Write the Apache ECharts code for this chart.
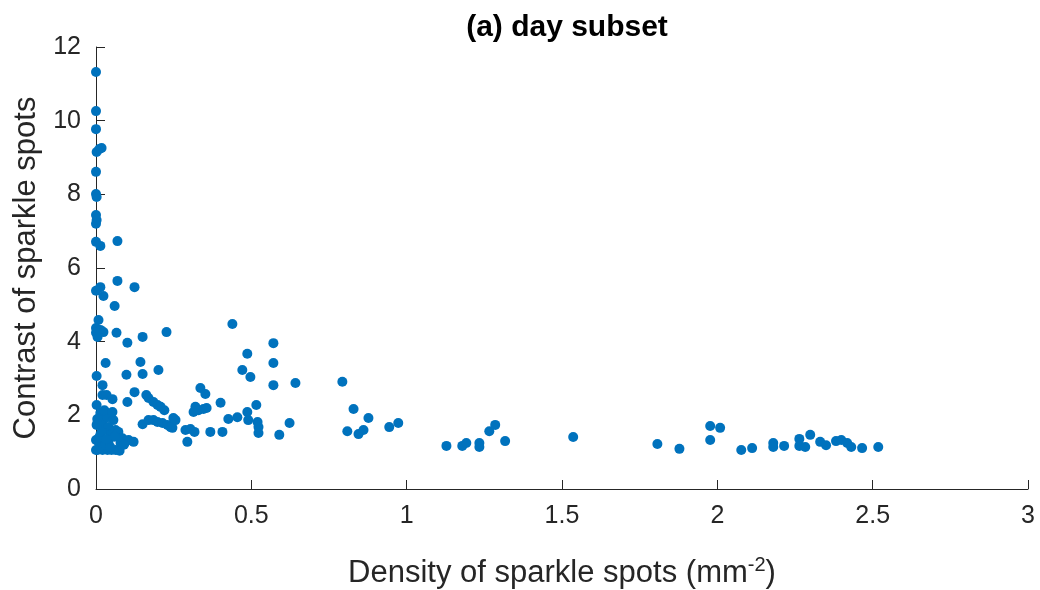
<!DOCTYPE html>
<html>
<head>
<meta charset="utf-8">
<script src="https://cdn.jsdelivr.net/npm/echarts@6/dist/echarts.min.js"></script>
<style>
  html, body { margin: 0; padding: 0; background: #ffffff; }
  #chart { width: 1040px; height: 590px; }
</style>
</head>
<body>
<div id="chart"></div>
<script>
// Density of sparkle spots (mm^-2)
const density = [
    0, 0, 0, 0.002, 0.011, 0.018, 0, 0, 0.002, 0, 0.002, 0, 0, 0.014, 0.069,
    0.069, 0.014, 0, 0.024, 0.124, 0.060, 0.008, 0, 0.014, 0.024, 0, 0.005, 0.066,
    0.101, 0.150, 0.227, 0.439, 0.571, 0.487, 0.031, 0.143, 0.571, 0.471, 0.497,
    0.002, 0.098, 0.150, 0.201, 0.021, 0.571, 0.642, 0.793, 0.336, 0.352, 0.124,
    0.021, 0.034, 0.053, 0.101, 0.162, 0.169, 0.185, 0.198, 0.208, 0.220, 0.401,
    0.320, 0.314, 0.330, 0.346, 0.356, 0.516, 0.829, 0.150, 0.169, 0.185, 0.198,
    0.214, 0.230, 0.249, 0.246, 0.240, 0.256, 0.288, 0.304, 0.317, 0.294, 0.368,
    0.407, 0.426, 0.455, 0.487, 0.490, 0.520, 0.523, 0.523, 0.623, 0.590, 0.809,
    0.845, 0.861, 0.877, 0.944, 0.973, 1.128, 1.179, 1.192, 1.234, 1.234, 1.266,
    1.285, 1.317, 1.536, 1.807, 1.878, 1.977, 2.009, 1.977, 2.077, 2.112, 2.180,
    2.180, 2.215, 2.264, 2.264, 2.283, 2.299, 2.331, 2.350, 2.382, 2.399, 2.418,
    2.431, 2.466, 2.518,
    0.014, 0.014, 0.021, 0.024, 0.014, 0.008, 0.005, 0.037, 0.040, 0.047, 0.063,
    0.072, 0.085, 0.095, 0.105, 0.121, 0.040, 0.037, 0.063, 0.079, 0.056,
    0, 0.021, 0.050, 0.076, 0.090, 0.002, 0.002, 0, 0.027, 0.053,
    0.010, 0.030, 0.045, 0.018, 0.060, 0.004, 0.033
];

// Contrast of sparkle spots
const contrast = [
    11.32, 10.26, 9.77, 9.15, 9.23, 9.26, 8.61, 8.01, 7.93, 7.44, 7.30, 7.20, 6.71, 6.60, 6.73,
    5.65, 5.48, 5.38, 5.24, 5.48, 4.97, 4.59, 4.37, 4.32, 4.26, 4.24, 4.13, 4.24,
    3.97, 4.13, 4.26, 4.48, 3.96, 3.67, 3.42, 3.45, 3.42, 3.23, 3.04,
    3.07, 3.10, 3.12, 3.23, 2.82, 2.82, 2.88, 2.91, 2.74, 2.58, 2.63,
    2.55, 2.55, 2.44, 2.36, 2.55, 2.47, 2.36, 2.28, 2.23, 2.14, 2.34,
    2.23, 2.09, 2.14, 2.17, 2.20, 2.28, 2.17, 1.76, 1.87, 1.87, 1.82,
    1.79, 1.74, 1.93, 1.66, 1.68, 1.87, 1.60, 1.63, 1.55, 1.28, 1.55,
    1.55, 1.90, 1.95, 2.09, 1.87, 1.82, 1.68, 1.52, 1.79, 1.47, 1.57,
    1.49, 1.60, 1.93, 1.68, 1.79, 1.17, 1.17, 1.25, 1.25, 1.14, 1.57,
    1.74, 1.30, 1.41, 1.22, 1.09, 1.71, 1.66, 1.33, 1.06, 1.11, 1.25,
    1.14, 1.17, 1.36, 1.17, 1.14, 1.47, 1.28, 1.19, 1.30, 1.33, 1.25,
    1.14, 1.11, 1.14,
    2.06, 1.93, 1.79, 1.60, 1.47, 1.28, 1.06, 1.95, 1.68, 1.47, 1.60,
    1.55, 1.38, 1.28, 1.33, 1.28, 1.28, 1.06, 1.06, 1.25, 1.87,
    1.06, 1.06, 1.06, 1.04, 1.20, 1.74, 2.28, 1.33, 2.14, 2.09,
    1.40, 1.20, 1.15, 1.55, 1.42, 1.90, 1.35
];

const xTicks = [0, 0.5, 1, 1.5, 2, 2.5, 3];
const yTicks = [0, 2, 4, 6, 8, 10, 12];

const points = density.map((d, i) => [d, contrast[i]]);

const axisColor = '#262626';
const fontFamily = '"Liberation Sans", Arial, Helvetica, sans-serif';

const chart = echarts.init(document.getElementById('chart'));

const option = {
    backgroundColor: '#ffffff',
    animation: false,
    textStyle: { fontFamily: fontFamily },
    title: {
        text: '(a) day subset',
        left: 562,
        textAlign: 'center',
        top: 8,
        textStyle: {
            fontSize: 30,
            fontWeight: 'bold',
            color: '#000000',
            fontFamily: fontFamily
        }
    },
    grid: {
        left: 96,
        right: 12,
        top: 47,
        bottom: 101,
        outerBoundsMode: 'none'
    },
    xAxis: {
        type: 'value',
        min: 0,
        max: 3,
        interval: 0.5,
        name: '{a|Density of sparkle spots (mm}{s|-2}{a|)}',
        nameLocation: 'middle',
        nameGap: 66,
        nameTextStyle: {
            rich: {
                a: { fontSize: 31, color: axisColor, fontFamily: fontFamily },
                s: { fontSize: 20, color: axisColor, fontFamily: fontFamily, verticalAlign: 'top', padding: [0, 0, 16, 0] }
            }
        },
        axisLine: { show: true, lineStyle: { color: axisColor, width: 1 } },
        axisTick: { show: true, inside: true, length: 9, lineStyle: { color: axisColor } },
        axisLabel: {
            color: axisColor,
            fontSize: 25,
            margin: 15,
            formatter: v => xTicks.includes(v) ? String(v) : ''
        },
        splitLine: { show: false }
    },
    yAxis: {
        type: 'value',
        min: 0,
        max: 12,
        interval: 2,
        name: 'Contrast of sparkle spots',
        nameLocation: 'middle',
        nameGap: 46,
        nameTextStyle: { fontSize: 31, color: axisColor, fontFamily: fontFamily },
        axisLine: { show: true, lineStyle: { color: axisColor, width: 1 } },
        axisTick: { show: true, inside: true, length: 9, lineStyle: { color: axisColor } },
        axisLabel: {
            color: axisColor,
            fontSize: 25,
            margin: 15,
            formatter: v => yTicks.includes(v) ? String(v) : ''
        },
        splitLine: { show: false }
    },
    series: [{
        type: 'scatter',
        data: points,
        symbol: 'circle',
        symbolSize: 10,
        itemStyle: { color: '#0072BD', opacity: 1 }
    }]
};

chart.setOption(option);
</script>
</body>
</html>
